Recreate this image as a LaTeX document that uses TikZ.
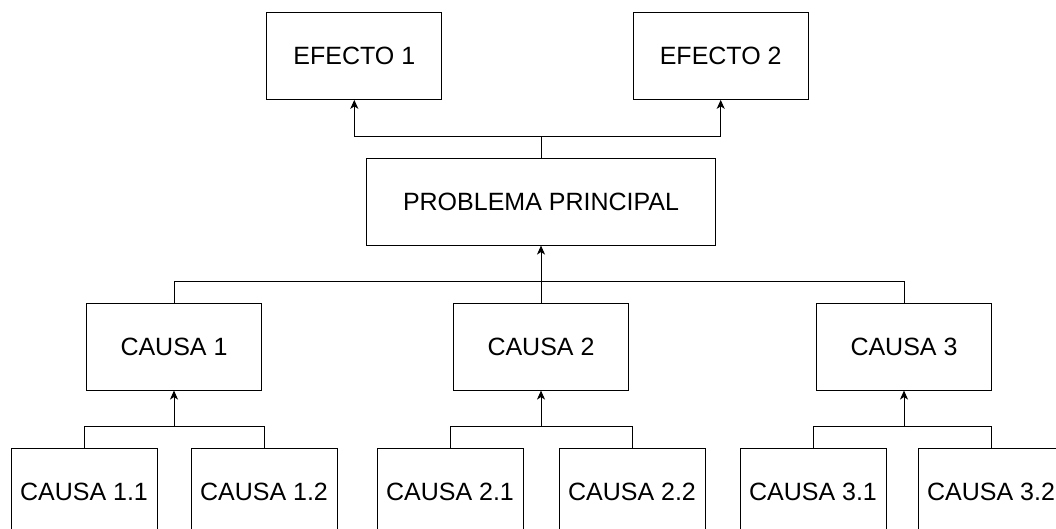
\documentclass[tikz,border=0pt]{standalone}
\usepackage{fontspec}
\setmainfont{Liberation Sans}
\usetikzlibrary{arrows.meta}
\begin{document}
\begin{tikzpicture}[x=1pt,y=-1pt,
  box/.style={draw=black,line width=1pt,inner sep=0pt,
    font=\fontsize{25}{29}\selectfont,minimum height=86.7pt},
  bigbox/.style={box,minimum width=175pt},
  subbox/.style={box,minimum width=146pt,minimum height=87pt},
  link/.style={draw=black,line width=1pt},
  arr/.style={link,-{Stealth[length=9pt,width=8pt,inset=2.5pt]}}]
\clip (0,0) rectangle (1056,528);

% effects
\node[bigbox] (ef1) at (354.3,56) {EFECTO 1};
\node[bigbox] (ef2) at (720.7,56) {EFECTO 2};

% main problem
\node[box,minimum width=349pt] (pp) at (541,201.7) {PROBLEMA PRINCIPAL};

% causes
\node[bigbox] (c1) at (174,346.7) {CAUSA 1};
\node[bigbox] (c2) at (541,346.7) {CAUSA 2};
\node[bigbox] (c3) at (904,346.7) {CAUSA 3};

% sub-causes
\node[subbox] (c11) at (84,491.8)  {CAUSA 1.1};
\node[subbox] (c12) at (264,491.8) {CAUSA 1.2};
\node[subbox] (c21) at (450,491.8) {CAUSA 2.1};
\node[subbox] (c22) at (632,491.8) {CAUSA 2.2};
\node[subbox] (c31) at (813,491.8) {CAUSA 3.1};
\node[subbox] (c32) at (991,491.8) {CAUSA 3.2};

% junction points of the buses
\coordinate (je) at (541,136);
\coordinate (jc) at (541,281.7);
\coordinate (j1) at (174,426);
\coordinate (j2) at (541,426);
\coordinate (j3) at (904,426);

% problem -> effects
\draw[link] (pp.north) -- (je);
\draw[arr] (je) -| (ef1.south);
\draw[arr] (je) -| (ef2.south);

% causes -> problem
\draw[link] (c1.north) |- (jc) -| (c3.north);
\draw[link] (c2.north) -- (jc);
\draw[arr] (jc) -- (pp.south);

% sub-causes -> causes
\draw[link] (c11.north) |- (j1) -| (c12.north);
\draw[arr] (j1) -- (c1.south);
\draw[link] (c21.north) |- (j2) -| (c22.north);
\draw[arr] (j2) -- (c2.south);
\draw[link] (c31.north) |- (j3) -| (c32.north);
\draw[arr] (j3) -- (c3.south);
\end{tikzpicture}
\end{document}
